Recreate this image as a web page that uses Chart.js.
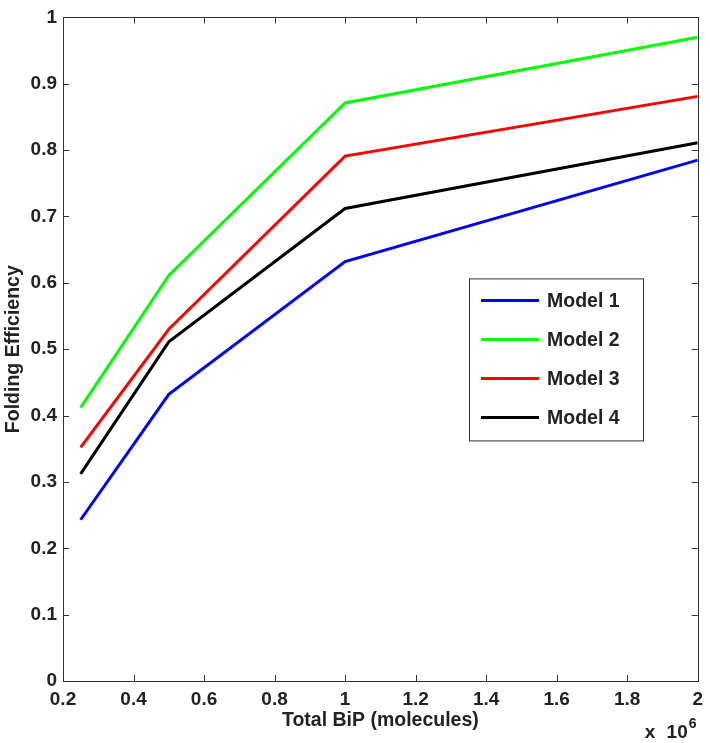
<!DOCTYPE html>
<html>
<head>
<meta charset="utf-8">
<title>Folding Efficiency vs Total BiP</title>
<script src="https://cdn.jsdelivr.net/npm/chart.js@4/dist/chart.umd.min.js"></script>
<style>
  html, body { margin: 0; padding: 0; background: #fff; }
  #wrap { width: 710px; height: 743px; }
</style>
</head>
<body>
<div id="wrap"><canvas id="chart" width="710" height="743"></canvas></div>
<script>
  // Total BiP, in units of 10^6 molecules
  const bipTotal = [0.25, 0.5, 1, 2];

  // folding efficiency for each model
  const model1 = [0.243, 0.432, 0.632, 0.785];
  const model2 = [0.412, 0.611, 0.871, 0.970];
  const model3 = [0.352, 0.530, 0.791, 0.881];
  const model4 = [0.312, 0.511, 0.712, 0.811];

  const seriesNames = ['Model 1', 'Model 2', 'Model 3', 'Model 4'];
  const seriesColors = ['#0000ff', '#00ff00', '#ff0000', '#000000'];

  const xTicks = [0.2, 0.4, 0.6, 0.8, 1, 1.2, 1.4, 1.6, 1.8, 2];
  const yTicks = [0, 0.1, 0.2, 0.3, 0.4, 0.5, 0.6, 0.7, 0.8, 0.9, 1];

  const FONT = '"Liberation Sans", Arial, Helvetica, sans-serif';
  const INK = '#222';
  const FRAME = '#333';

  function toPoints(ys) {
    return bipTotal.map((x, i) => ({ x, y: ys[i] }));
  }

  // MATLAB-ish box with inward ticks on all four sides
  const framePlugin = {
    id: 'frame',
    afterDatasetsDraw(chart) {
      const { ctx, chartArea: ca, scales } = chart;
      const len = 6;
      ctx.save();
      ctx.strokeStyle = FRAME;
      ctx.lineWidth = 1;
      ctx.beginPath();
      xTicks.forEach((v) => {
        const px = Math.round(scales.x.getPixelForValue(v)) + 0.5;
        ctx.moveTo(px, ca.bottom); ctx.lineTo(px, ca.bottom - len);
        ctx.moveTo(px, ca.top); ctx.lineTo(px, ca.top + len);
      });
      yTicks.forEach((v) => {
        const py = Math.round(scales.y.getPixelForValue(v)) + 0.5;
        ctx.moveTo(ca.left, py); ctx.lineTo(ca.left + len, py);
        ctx.moveTo(ca.right, py); ctx.lineTo(ca.right - len, py);
      });
      ctx.stroke();
      ctx.strokeRect(Math.round(ca.left) + 0.5, Math.round(ca.top) + 0.5,
        Math.round(ca.right - ca.left), Math.round(ca.bottom - ca.top));

      // axis multiplier, bottom right
      ctx.fillStyle = INK;
      ctx.textBaseline = 'alphabetic';
      ctx.textAlign = 'left';
      ctx.font = 'bold 19px ' + FONT;
      ctx.fillText('x', ca.right - 53, ca.bottom + 57);
      ctx.textAlign = 'right';
      ctx.fillText('10', ca.right - 10, ca.bottom + 57);
      ctx.textAlign = 'left';
      ctx.font = 'bold 14px ' + FONT;
      ctx.fillText('6', ca.right - 9, ca.bottom + 47);
      ctx.restore();
    }
  };

  // legend box inside the plot
  const boxLegendPlugin = {
    id: 'boxLegend',
    afterDraw(chart) {
      const { ctx, chartArea: ca } = chart;
      const left = ca.left + 406, top = ca.top + 261, w = 174, h = 162;
      ctx.save();
      ctx.fillStyle = '#fff';
      ctx.fillRect(left, top, w, h);
      ctx.strokeStyle = FRAME;
      ctx.lineWidth = 1;
      ctx.strokeRect(left + 0.5, top + 0.5, w, h);
      ctx.font = 'bold 19.5px ' + FONT;
      ctx.textBaseline = 'middle';
      ctx.textAlign = 'left';
      chart.data.datasets.forEach((ds, i) => {
        const y = top + 22 + i * 39;
        ctx.strokeStyle = ds.borderColor;
        ctx.lineWidth = 3;
        ctx.beginPath();
        ctx.moveTo(left + 12, y);
        ctx.lineTo(left + 70, y);
        ctx.stroke();
        ctx.fillStyle = INK;
        ctx.fillText(ds.label, left + 78, y + 1);
      });
      ctx.restore();
    }
  };

  const datasets = [model1, model2, model3, model4].map((ys, i) => ({
    label: seriesNames[i],
    data: toPoints(ys),
    borderColor: seriesColors[i],
    backgroundColor: seriesColors[i],
    borderWidth: 3,
    pointRadius: 0,
    tension: 0,
    fill: false
  }));

  const tickFont = { family: FONT, size: 19, weight: 'bold' };
  const titleFont = { family: FONT, size: 19.5, weight: 'bold' };
  const fmt = (v) => String(+(+v).toFixed(1));

  new Chart(document.getElementById('chart').getContext('2d'), {
    type: 'line',
    data: { datasets },
    plugins: [framePlugin, boxLegendPlugin],
    options: {
      responsive: false,
      animation: false,
      layout: { padding: { top: 11, right: 10, left: 0, bottom: 0 } },
      plugins: { legend: { display: false }, tooltip: { enabled: false } },
      scales: {
        x: {
          type: 'linear',
          min: 0.2,
          max: 2,
          afterBuildTicks: (s) => { s.ticks = xTicks.map((v) => ({ value: v })); },
          afterFit: (s) => { s.height = 62; },
          grid: { display: false, drawTicks: false },
          border: { display: false },
          ticks: { font: tickFont, color: INK, padding: 7, autoSkip: false, maxRotation: 0, callback: fmt },
          title: { display: true, text: 'Total BiP (molecules)', font: titleFont, color: INK, padding: { top: 0, bottom: 11 } }
        },
        y: {
          type: 'linear',
          min: 0,
          max: 1,
          afterBuildTicks: (s) => { s.ticks = yTicks.map((v) => ({ value: v })); },
          afterFit: (s) => { s.width = 63; },
          grid: { display: false, drawTicks: false },
          border: { display: false },
          ticks: { font: tickFont, color: INK, padding: 6, autoSkip: false, callback: fmt },
          title: { display: true, text: 'Folding Efficiency', font: titleFont, color: INK, padding: { top: 2, bottom: 0 } }
        }
      }
    }
  });
</script>
</body>
</html>
